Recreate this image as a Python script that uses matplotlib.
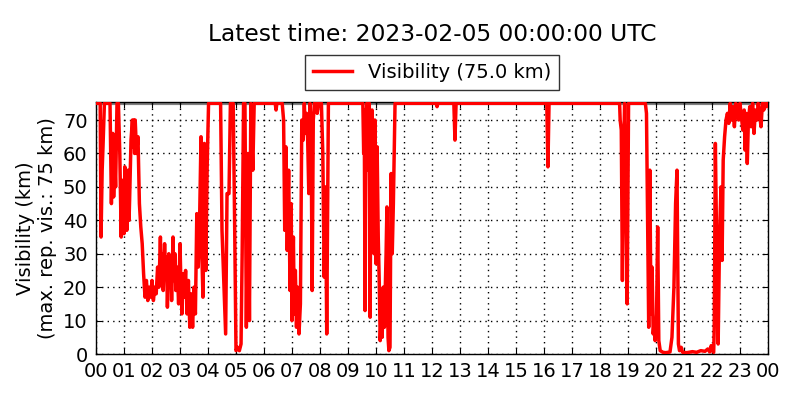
import matplotlib
matplotlib.use("Agg")
import matplotlib.pyplot as plt
import matplotlib.dates as mdates
import numpy as np
import pandas as pd

title_text = "Latest time: 2023-02-05 00:00:00 UTC"
legend_label = "Visibility (75.0 km)"
ylabel_text = "Visibility (km)\n(max. rep. vis.: 75 km)"
start_time = "2023-02-04 00:00"
max_vis = 75.0

# hours since start (UTC) and visibility (km)
hours = [
    0.00, 0.15, 0.18, 0.22, 0.25, 0.30, 0.45, 0.50, 0.55, 0.60, 0.63, 0.67, 0.70, 0.75, 0.80,
    0.85, 0.90, 0.93, 0.95, 0.98, 1.00, 1.03, 1.05, 1.08, 1.10, 1.13, 1.15, 1.18, 1.20, 1.25,
    1.30, 1.33, 1.35, 1.38, 1.40, 1.45, 1.50, 1.55,
    1.60, 1.65, 1.70, 1.75, 1.80, 1.85, 1.90, 1.95, 2.00, 2.05, 2.10, 2.15, 2.20, 2.25, 2.30,
    2.33, 2.37, 2.40, 2.45, 2.48, 2.52, 2.55, 2.60, 2.63, 2.67, 2.70, 2.75, 2.78, 2.82, 2.85,
    2.90, 2.95, 3.00, 3.03, 3.07, 3.10, 3.15, 3.20, 3.25, 3.30, 3.35, 3.40, 3.45, 3.50, 3.55,
    3.60, 3.65, 3.70, 3.75, 3.78, 3.82, 3.87, 3.92, 3.97, 4.02,
    4.45, 4.50, 4.57, 4.63, 4.68, 4.75, 4.80, 4.90, 4.95, 5.00, 5.05, 5.12, 5.18, 5.22, 5.27,
    5.32, 5.37, 5.43, 5.48, 5.53, 5.60, 5.65,
    6.40, 6.43, 6.46,
    6.65, 6.70, 6.74, 6.78, 6.83, 6.88, 6.93, 6.97, 7.00, 7.05, 7.08, 7.12, 7.16, 7.20, 7.25,
    7.30, 7.35, 7.40, 7.44, 7.48, 7.52, 7.56, 7.60, 7.64, 7.68, 7.72, 7.76, 7.80, 7.85, 7.90,
    7.95, 8.05, 8.10, 8.15, 8.20, 8.24, 8.30,
    9.53, 9.56, 9.58, 9.61, 9.64, 9.67, 9.70, 9.73, 9.76, 9.79, 9.82, 9.86, 9.90, 9.93, 9.96,
    10.00, 10.04, 10.08, 10.12, 10.15, 10.19, 10.22, 10.26, 10.30, 10.36, 10.39, 10.43, 10.46,
    10.50, 10.54, 10.58, 10.62, 10.68,
    12.15, 12.18, 12.21, 12.78, 12.82, 12.86, 16.10, 16.14, 16.18,
    18.70, 18.72, 18.76, 18.80, 18.84, 18.88, 18.92, 18.97, 19.02,
    19.62, 19.66, 19.70, 19.74, 19.78, 19.82, 19.86, 19.90, 19.94, 19.97, 20.02, 20.06, 20.10,
    20.15, 20.25, 20.35, 20.50, 20.57, 20.64, 20.70, 20.75, 20.80, 20.84, 20.90, 20.95, 21.10,
    21.30, 21.45, 21.60, 21.75, 21.85, 21.92, 21.97, 22.02, 22.06,
    22.08, 22.12, 22.17, 22.22, 22.27, 22.32, 22.36, 22.40, 22.45, 22.50, 22.55, 22.60, 22.65,
    22.70, 22.75, 22.80, 22.85, 22.90, 22.95, 23.00, 23.05, 23.10, 23.15, 23.18, 23.22, 23.26,
    23.30, 23.35, 23.40, 23.45, 23.50, 23.55, 23.60, 23.65, 23.70, 23.75, 23.80, 23.85, 23.90,
    23.95, 24.00,
]
visibility = [
    75, 75, 35, 55, 62, 75, 75, 75, 45, 66, 47, 58, 50, 75, 75,
    60, 35, 52, 38, 48, 36, 56, 42, 52, 37, 50, 55, 40, 46, 64,
    70, 62, 70, 60, 70, 60, 65, 45,
    38, 33, 24, 17, 22, 16, 20, 17, 22, 16, 20, 18, 26, 20, 35,
    22, 30, 19, 33, 25, 29, 14, 30, 20, 28, 16, 35, 22, 30, 19,
    26, 15, 33, 22, 12, 24, 17, 25, 12, 22, 8, 18, 8, 20, 12,
    42, 26, 40, 65, 30, 17, 63, 25, 56, 75,
    75, 37, 20, 6, 48, 48, 75, 75, 40, 1, 2, 1, 3, 30, 75,
    75, 8, 60, 10, 75, 55, 75,
    75, 73, 75,
    75, 70, 37, 62, 31, 55, 19, 45, 10, 35, 12, 25, 8, 20, 6,
    15, 70, 64, 75, 66, 72, 64, 48, 75, 68, 19, 70, 75, 75, 72,
    75, 75, 60, 23, 50, 6, 75,
    75, 60, 73, 13, 68, 75, 55, 60, 75, 11, 65, 73, 60, 30, 70,
    27, 62, 35, 20, 4, 12, 5, 20, 8, 30, 44, 5, 1,
    2, 54, 30, 45, 75,
    75, 74, 75, 75, 64, 75, 75, 56, 75,
    75, 70, 67, 22, 60, 75, 50, 15, 75,
    75, 72, 40, 8, 55, 12, 26, 6, 10, 4, 12, 38, 4,
    1, 0.5, 0.4, 0.6, 5, 20, 45, 55, 3, 1, 2, 0.5, 0.4,
    0.7, 0.5, 1, 0.8, 1.5, 0.6, 2.5, 1, 0.5,
    8, 63, 30, 3, 35, 50, 28, 58, 65, 70, 72, 69, 75,
    70, 74, 68, 75, 72, 70, 75, 71, 67, 73, 61, 72, 57,
    70, 74, 68, 75, 66, 73, 70, 75, 72, 68, 75, 73, 75,
    74, 75,
]

t0 = pd.Timestamp(start_time)
times = t0 + pd.to_timedelta(np.array(hours), unit="h")

plt.rcParams['font.family'] = ['DejaVu Sans']
fig = plt.figure(figsize=(8, 4), dpi=100)
ax = fig.add_axes([0.12, 0.115, 0.84, 0.63])

ax.axhline(max_vis, color="gray", linewidth=3, zorder=1)
ax.plot(times, visibility, color="red", linewidth=2.5, label=legend_label, zorder=3)

ax.set_xlim(t0, t0 + pd.Timedelta(hours=24))
ax.set_ylim(0, 75.4)
ax.set_yticks(np.arange(0, 71, 10))
ax.xaxis.set_major_locator(mdates.HourLocator(interval=1))
ax.xaxis.set_major_formatter(mdates.DateFormatter("%H"))

ax.grid(True, color="black", linestyle=(0, (1, 3)), linewidth=1.0)
ax.tick_params(direction="in", top=True, right=True, labelsize=14, length=4, pad=6)
for s in ax.spines.values():
    s.set_linewidth(1.0)

ax.set_ylabel(ylabel_text, fontsize=14, linespacing=1.2)
fig.text(0.54, 0.913, title_text, ha="center", va="center", fontsize=16.8)
leg = ax.legend(loc="lower center", bbox_to_anchor=(0.5, 1.01), fontsize=14,
                frameon=True, fancybox=False, handlelength=2.0, borderpad=0.4)
leg.get_frame().set_edgecolor("black")
leg.get_frame().set_linewidth(1.0)

fig.savefig("out.png", dpi=100)
